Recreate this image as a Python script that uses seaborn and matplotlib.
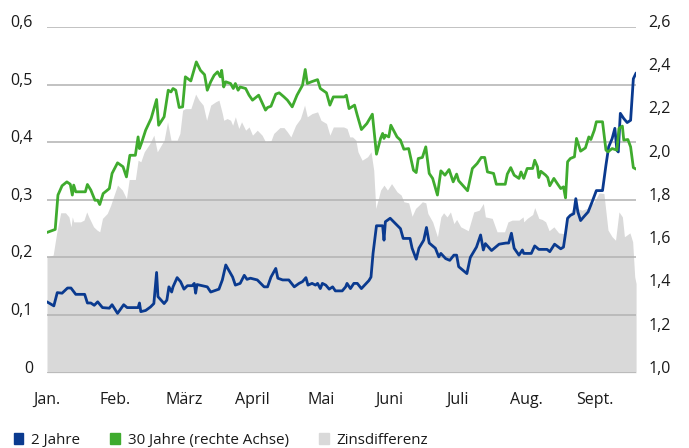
"""Renditen Staatsanleihen: 2 Jahre, 30 Jahre und Zinsdifferenz."""
import pandas as pd
import matplotlib
matplotlib.use("Agg")
import matplotlib.pyplot as plt
from matplotlib.patches import Patch
import seaborn as sns

# --- Daten (x = Monate seit Jahresbeginn) ---
monate = ["Jan.", "Feb.", "März", "April", "Mai", "Juni", "Juli", "Aug.", "Sept."]

monat_2j = [0.00, 0.10, 0.15, 0.22, 0.30, 0.35, 0.42, 0.55, 0.59, 0.64, 0.69, 0.74, 0.81, 0.91, 0.95,
            1.03, 1.12, 1.17, 1.33, 1.35, 1.37, 1.44, 1.51, 1.56, 1.60, 1.62, 1.71, 1.75, 1.78, 1.82,
            1.84, 1.90, 1.95, 2.00, 2.05, 2.12, 2.15, 2.17, 2.19, 2.34, 2.39, 2.51, 2.56, 2.61, 2.71,
            2.75, 2.82, 2.88, 2.92, 2.97, 3.07, 3.17, 3.22, 3.27, 3.34, 3.37, 3.44, 3.53, 3.61, 3.68,
            3.73, 3.78, 3.81, 3.87, 3.92, 3.95, 3.99, 4.02, 4.07, 4.12, 4.17, 4.21, 4.31, 4.36, 4.38,
            4.43, 4.48, 4.53, 4.59, 4.70, 4.73, 4.76, 4.81, 4.90, 4.92, 4.94, 5.01, 5.11, 5.16, 5.20,
            5.30, 5.33, 5.39, 5.43, 5.50, 5.54, 5.58, 5.67, 5.72, 5.75, 5.82, 5.88, 5.94, 5.98, 6.01,
            6.13, 6.18, 6.27, 6.33, 6.37, 6.40, 6.49, 6.60, 6.70, 6.74, 6.78, 6.82, 6.89, 6.94, 6.96,
            7.07, 7.12, 7.18, 7.30, 7.34, 7.41, 7.50, 7.54, 7.57, 7.60, 7.64, 7.69, 7.72, 7.75, 7.79,
            7.84, 7.90, 7.96, 8.02, 8.11, 8.16, 8.20, 8.25, 8.29, 8.32, 8.34, 8.37, 8.42, 8.47, 8.52,
            8.56, 8.60]
rendite_2j = [0.123, 0.116, 0.139, 0.138, 0.147, 0.147, 0.136, 0.136, 0.121, 0.121, 0.117, 0.123, 0.113,
              0.112, 0.118, 0.103, 0.118, 0.113, 0.113, 0.121, 0.106, 0.108, 0.114, 0.120, 0.174, 0.132,
              0.120, 0.126, 0.149, 0.140, 0.149, 0.165, 0.158, 0.145, 0.151, 0.151, 0.155, 0.138, 0.153,
              0.149, 0.140, 0.145, 0.161, 0.187, 0.166, 0.152, 0.155, 0.169, 0.162, 0.164, 0.161, 0.149,
              0.149, 0.166, 0.181, 0.164, 0.161, 0.161, 0.149, 0.155, 0.158, 0.165, 0.152, 0.155, 0.152,
              0.155, 0.146, 0.155, 0.152, 0.145, 0.149, 0.142, 0.142, 0.149, 0.155, 0.146, 0.155, 0.155,
              0.146, 0.160, 0.166, 0.207, 0.255, 0.255, 0.230, 0.262, 0.268, 0.256, 0.250, 0.233, 0.233,
              0.216, 0.197, 0.216, 0.230, 0.252, 0.225, 0.216, 0.201, 0.207, 0.198, 0.195, 0.204, 0.204,
              0.184, 0.172, 0.200, 0.218, 0.239, 0.213, 0.224, 0.212, 0.223, 0.225, 0.225, 0.242, 0.216,
              0.204, 0.213, 0.207, 0.207, 0.220, 0.214, 0.214, 0.210, 0.223, 0.215, 0.218, 0.242, 0.268,
              0.273, 0.276, 0.302, 0.279, 0.264, 0.271, 0.279, 0.297, 0.316, 0.316, 0.360, 0.392, 0.406,
              0.424, 0.386, 0.383, 0.450, 0.441, 0.434, 0.438, 0.510, 0.520]

monat_30j = [0.00, 0.12, 0.16, 0.22, 0.29, 0.34, 0.37, 0.39, 0.42, 0.56, 0.59, 0.64, 0.70, 0.74, 0.77,
             0.82, 0.91, 0.95, 1.03, 1.11, 1.16, 1.21, 1.29, 1.33, 1.35, 1.38, 1.44, 1.52, 1.60, 1.63,
             1.71, 1.77, 1.81, 1.84, 1.88, 1.93, 1.98, 2.02, 2.10, 2.18, 2.24, 2.30, 2.34, 2.39, 2.44,
             2.49, 2.53, 2.55, 2.58, 2.61, 2.68, 2.72, 2.75, 2.79, 2.82, 2.90, 2.95, 3.00, 3.09, 3.19,
             3.22, 3.27, 3.34, 3.39, 3.46, 3.51, 3.58, 3.65, 3.73, 3.77, 3.80, 3.86, 3.95, 3.99, 4.08,
             4.13, 4.18, 4.34, 4.37, 4.41, 4.49, 4.53, 4.59, 4.67, 4.75, 4.81, 4.87, 4.90, 4.92, 4.94,
             4.99, 5.02, 5.11, 5.16, 5.21, 5.28, 5.35, 5.39, 5.42, 5.48, 5.53, 5.58, 5.63, 5.70, 5.75,
             5.81, 5.87, 5.93, 5.98, 6.01, 6.14, 6.21, 6.28, 6.34, 6.39, 6.43, 6.52, 6.56, 6.69, 6.72,
             6.77, 6.82, 6.89, 6.92, 6.96, 7.01, 7.09, 7.12, 7.16, 7.18, 7.21, 7.28, 7.31, 7.34, 7.40,
             7.45, 7.50, 7.54, 7.57, 7.60, 7.64, 7.70, 7.73, 7.79, 7.86, 7.91, 7.94, 7.99, 8.02, 8.11,
             8.16, 8.19, 8.25, 8.32, 8.35, 8.40, 8.42, 8.48, 8.52, 8.56, 8.60]
rendite_30j = [1.649, 1.663, 1.822, 1.865, 1.883, 1.872, 1.822, 1.868, 1.837, 1.837, 1.871, 1.845, 1.798,
               1.798, 1.778, 1.829, 1.852, 1.922, 1.971, 1.953, 1.906, 2.006, 2.006, 2.091, 2.037, 2.063,
               2.122, 2.176, 2.264, 2.145, 2.184, 2.307, 2.299, 2.315, 2.307, 2.227, 2.230, 2.369, 2.350,
               2.438, 2.399, 2.379, 2.307, 2.346, 2.376, 2.392, 2.369, 2.399, 2.322, 2.346, 2.338, 2.315,
               2.338, 2.307, 2.322, 2.315, 2.284, 2.261, 2.284, 2.215, 2.227, 2.233, 2.289, 2.295, 2.276,
               2.261, 2.230, 2.284, 2.330, 2.403, 2.338, 2.346, 2.356, 2.315, 2.295, 2.238, 2.276, 2.276,
               2.284, 2.222, 2.238, 2.191, 2.125, 2.153, 2.196, 2.011, 2.084, 2.107, 2.084, 2.099, 2.091,
               2.145, 2.091, 2.076, 2.034, 2.037, 1.937, 1.926, 1.991, 1.996, 2.045, 1.922, 1.899, 1.822,
               1.934, 1.914, 1.940, 1.883, 1.919, 1.888, 1.842, 1.945, 1.968, 1.996, 1.996, 1.929, 1.922,
               1.872, 1.872, 1.919, 1.949, 1.914, 1.899, 1.929, 1.899, 1.945, 1.945, 1.983, 1.953, 1.903,
               1.932, 1.914, 1.903, 1.865, 1.899, 1.875, 1.852, 1.860, 1.809, 1.976, 1.991, 1.999, 2.084,
               2.025, 2.040, 2.091, 2.079, 2.122, 2.161, 2.161, 2.030, 2.022, 2.037, 2.030, 2.130, 2.141,
               2.076, 2.079, 2.045, 1.949, 1.942]

monat_diff = [0.00, 0.09, 0.14, 0.20, 0.27, 0.32, 0.35, 0.37, 0.39, 0.49, 0.54, 0.58, 0.61, 0.68, 0.73,
              0.77, 0.81, 0.88, 0.93, 0.98, 1.03, 1.10, 1.16, 1.20, 1.29, 1.33, 1.37, 1.42, 1.50, 1.56,
              1.61, 1.71, 1.76, 1.81, 1.90, 1.94, 1.98, 2.02, 2.10, 2.17, 2.22, 2.28, 2.33, 2.39, 2.46,
              2.51, 2.56, 2.58, 2.63, 2.68, 2.71, 2.75, 2.80, 2.84, 2.90, 2.95, 3.00, 3.07, 3.14, 3.19,
              3.27, 3.31, 3.40, 3.46, 3.51, 3.56, 3.63, 3.70, 3.76, 3.80, 3.87, 3.95, 4.00, 4.08, 4.13,
              4.18, 4.33, 4.38, 4.42, 4.46, 4.51, 4.54, 4.60, 4.68, 4.73, 4.77, 4.80, 4.87, 4.92, 4.97,
              5.03, 5.11, 5.17, 5.21, 5.28, 5.33, 5.38, 5.43, 5.48, 5.53, 5.56, 5.63, 5.70, 5.75, 5.79,
              5.84, 5.89, 5.94, 5.98, 6.04, 6.15, 6.23, 6.31, 6.37, 6.40, 6.50, 6.57, 6.68, 6.73, 6.79,
              6.89, 6.95, 6.96, 7.01, 7.09, 7.12, 7.18, 7.23, 7.28, 7.33, 7.40, 7.47, 7.54, 7.57, 7.62,
              7.69, 7.74, 7.81, 7.89, 7.99, 8.06, 8.13, 8.19, 8.25, 8.30, 8.35, 8.40, 8.43, 8.51, 8.55,
              8.58, 8.60]
zinsdifferenz = [1.536, 1.544, 1.644, 1.740, 1.740, 1.721, 1.675, 1.721, 1.698, 1.698, 1.706, 1.744, 1.721,
                 1.675, 1.660, 1.652, 1.714, 1.737, 1.775, 1.822, 1.868, 1.845, 1.806, 1.894, 1.894, 1.983,
                 1.976, 2.022, 2.060, 2.099, 2.022, 2.076, 2.161, 2.076, 2.076, 2.107, 2.215, 2.222, 2.222,
                 2.289, 2.261, 2.238, 2.168, 2.238, 2.253, 2.261, 2.199, 2.168, 2.176, 2.168, 2.145, 2.184,
                 2.130, 2.161, 2.122, 2.137, 2.099, 2.122, 2.099, 2.068, 2.073, 2.107, 2.134, 2.134, 2.114,
                 2.091, 2.145, 2.176, 2.238, 2.184, 2.199, 2.207, 2.168, 2.153, 2.099, 2.137, 2.137, 2.130,
                 2.091, 2.091, 2.076, 2.022, 1.983, 1.999, 2.022, 1.937, 1.760, 1.845, 1.868, 1.845, 1.875,
                 1.837, 1.822, 1.791, 1.786, 1.724, 1.760, 1.775, 1.791, 1.786, 1.737, 1.698, 1.629, 1.721,
                 1.740, 1.721, 1.744, 1.690, 1.709, 1.675, 1.657, 1.744, 1.752, 1.783, 1.721, 1.714, 1.652,
                 1.652, 1.698, 1.706, 1.706, 1.721, 1.698, 1.714, 1.732, 1.764, 1.714, 1.709, 1.698, 1.657,
                 1.675, 1.647, 1.644, 1.675, 1.729, 1.768, 1.760, 1.752, 1.760, 1.791, 1.832, 1.829, 1.660,
                 1.629, 1.613, 1.744, 1.721, 1.629, 1.647, 1.606, 1.444, 1.413]

ticks_links = [0, 0.1, 0.2, 0.3, 0.4, 0.5, 0.6]
labels_links = ["0", "0,1", "0,2", "0,3", "0,4", "0,5", "0,6"]
ticks_rechts = [1.0, 1.2, 1.4, 1.6, 1.8, 2.0, 2.2, 2.4, 2.6]
labels_rechts = ["1,0", "1,2", "1,4", "1,6", "1,8", "2,0", "2,2", "2,4", "2,6"]

BLAU = "#0a3a8f"
GRUEN = "#3fab2e"
GRAU = "#d9d9d9"
GITTER = "#b2b2b2"
TEXT = "#1a1a1a"

sns.set_theme(style="white")
plt.rcParams["font.family"] = ["Open Sans", "DejaVu Sans"]

df_2j = pd.DataFrame({"monat": monat_2j, "rendite": rendite_2j})
df_30j = pd.DataFrame({"monat": monat_30j, "rendite": rendite_30j})

fig = plt.figure(figsize=(6.89, 4.48), dpi=100)
ax_r = fig.add_axes([0.0682, 0.168, 0.855, 0.772])   # rechte Achse: Zinsdifferenz
ax_l = ax_r.twinx()                                   # linke Achse: 2 Jahre + Gitter
ax_g = ax_r.twinx()                                   # rechte Achse: 30 Jahre (oben)

# Zinsdifferenz als Fläche
ax_r.fill_between(monat_diff, 1.0, zinsdifferenz, color=GRAU, lw=0)
ax_r.set_xlim(0, 8.6)
ax_r.set_ylim(1.0, 2.6)
ax_r.yaxis.tick_right()
ax_r.set_yticks(ticks_rechts)
ax_r.set_yticklabels(labels_rechts)
ax_r.set_xticks(range(len(monate)))
ax_r.set_xticklabels(monate)
ax_r.tick_params(axis="both", length=0, labelsize=11.5, labelcolor=TEXT)
ax_r.tick_params(axis="y", pad=9)
ax_r.tick_params(axis="x", pad=14)
for lbl in ax_r.get_yticklabels():
    lbl.set_verticalalignment("baseline")

# 2 Jahre + Gitterlinien
ax_l.set_ylim(0, 0.6)
ax_l.yaxis.tick_left()
ax_l.set_yticks(ticks_links)
ax_l.set_yticklabels(labels_links)
ax_l.tick_params(axis="y", length=0, labelsize=11.5, labelcolor=TEXT, pad=10)
for lbl in ax_l.get_yticklabels():
    lbl.set_verticalalignment("baseline")
ax_l.yaxis.grid(True, color=GITTER, lw=1.1)
sns.lineplot(data=df_2j, x="monat", y="rendite", ax=ax_l, color=BLAU, lw=2.0,
             estimator=None, sort=False)
ax_l.set_xlabel("")
ax_l.set_ylabel("")

# 30 Jahre
ax_g.set_ylim(1.0, 2.6)
sns.lineplot(data=df_30j, x="monat", y="rendite", ax=ax_g, color=GRUEN, lw=2.0,
             estimator=None, sort=False)
ax_g.set_yticks([])
ax_g.set_xlabel("")
ax_g.set_ylabel("")

for a in (ax_r, ax_l, ax_g):
    a.set_xlim(0, 8.6)
    for s in a.spines.values():
        s.set_visible(False)

# twinx setzt die Ticks der Basisachse nach links, daher erneut rechts
ax_r.yaxis.tick_right()
ax_r.tick_params(axis="y", length=0)

handles = [Patch(color=BLAU), Patch(color=GRUEN), Patch(color=GRAU)]
fig.legend(handles, ["2 Jahre", "30 Jahre (rechte Achse)", "Zinsdifferenz"],
           loc="lower left", bbox_to_anchor=(0.0, -0.03), ncol=3, frameon=False,
           handlelength=0.65, handleheight=0.65, handletextpad=0.5, columnspacing=2.0,
           fontsize=10.9, labelcolor=TEXT)

fig.savefig("out.png", dpi=100)
